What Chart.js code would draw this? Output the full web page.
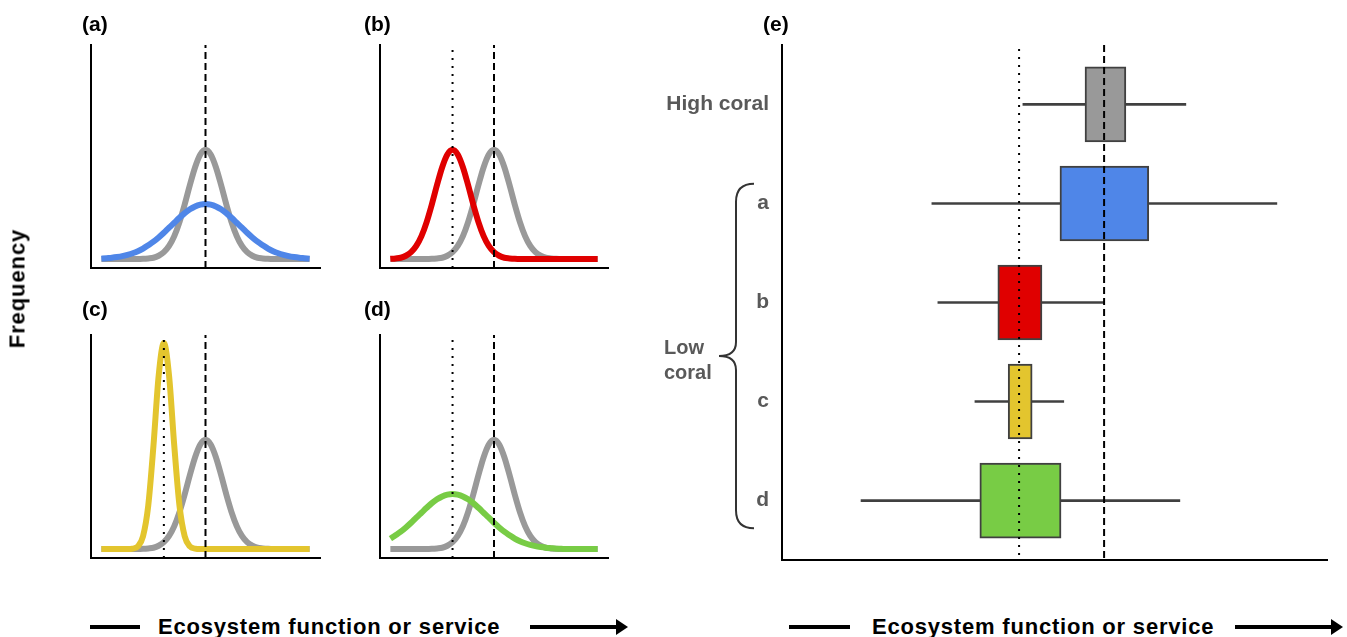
<!DOCTYPE html>
<html lang="en">
<head>
<meta charset="UTF-8">
<title>Ecosystem function distributions</title>
<script src="https://cdn.jsdelivr.net/npm/chart.js@4.4.1/dist/chart.umd.min.js"></script>
<style>
  body { margin: 0; background: #fff; font-family: "Liberation Sans", Arial, sans-serif; }
  #page { position: relative; width: 1347px; height: 637px; overflow: hidden; }
  canvas { position: absolute; }
  .lbl { position: absolute; font-weight: bold; font-size: 21px; line-height: 21px; color: #000; white-space: nowrap; }
  .xlab { position: absolute; font-weight: bold; font-size: 22px; line-height: 24px; letter-spacing: 0.8px; white-space: nowrap; }
  .bar { position: absolute; background: #000; height: 4px; }
  .head { position: absolute; width: 0; height: 0; border-top: 8px solid transparent; border-bottom: 8px solid transparent; border-left: 12px solid #000; }
</style>
</head>
<body>
<div id="page">
  <canvas id="pa" width="340" height="290" style="left:0;top:0"></canvas>
  <canvas id="pb" width="340" height="290" style="left:340px;top:0"></canvas>
  <canvas id="pc" width="340" height="290" style="left:0;top:290px"></canvas>
  <canvas id="pd" width="340" height="290" style="left:340px;top:290px"></canvas>
  <canvas id="pe" width="707" height="580" style="left:640px;top:0"></canvas>

  <div class="lbl" style="left:82px;top:13px">(a)</div>
  <div class="lbl" style="left:364px;top:13px">(b)</div>
  <div class="lbl" style="left:82px;top:298px">(c)</div>
  <div class="lbl" style="left:364px;top:298px">(d)</div>
  <div class="lbl" style="left:763px;top:13px">(e)</div>

  <div class="lbl" style="left:-43px;top:278px;font-size:22px;letter-spacing:0.9px;transform:rotate(-90deg);width:120px;text-align:center">Frequency</div>

  <div class="lbl" style="left:664px;top:335px;font-size:20px;line-height:25px;color:#595959">Low<br>coral</div>

  <div class="bar" style="left:90px;top:625px;width:50px"></div>
  <div class="xlab" style="left:158px;top:615px">Ecosystem function or service</div>
  <div class="bar" style="left:530px;top:625px;width:88px"></div>
  <div class="head" style="left:616px;top:619px"></div>

  <div class="bar" style="left:789px;top:625px;width:61px"></div>
  <div class="xlab" style="left:872px;top:615px">Ecosystem function or service</div>
  <div class="bar" style="left:1235px;top:625px;width:98px"></div>
  <div class="head" style="left:1331px;top:619px"></div>
</div>

<script>
// x positions along the "ecosystem function" axis of the small panels (a)-(d)
const X = [1, 1.5, 2, 2.5, 3, 3.5, 4, 4.5, 5, 5.5, 6, 6.5, 7, 7.5, 8, 8.5, 9, 9.5, 10, 10.5,
           11, 11.5, 12, 12.5, 13, 13.5, 14, 14.5, 15, 15.5, 16, 16.5, 17, 17.5, 18, 18.5, 19, 19.5, 20, 20.5, 21];

// frequency curves
const highCoral = [4, 4, 4, 4, 4, 4, 4, 4, 4.1, 4.3, 4.6, 5.5, 7.1, 9.9, 14.3, 20.6, 28.5, 37.2, 45.2, 50.9,
                   53, 50.9, 45.2, 37.2, 28.5, 20.6, 14.3, 9.9, 7.1, 5.5, 4.6, 4.3, 4.1, 4, 4, 4, 4, 4, 4, 4, 4];
const lowA = [4.2, 4.4, 4.6, 4.9, 5.3, 5.9, 6.6, 7.5, 8.7, 10.2, 11.8, 13.7, 15.8, 18.1, 20.3, 22.5, 24.6, 26.3, 27.6, 28.4,
              28.7, 28.4, 27.6, 26.3, 24.6, 22.5, 20.3, 18.1, 15.8, 13.7, 11.8, 10.2, 8.7, 7.5, 6.6, 5.9, 5.3, 4.9, 4.6, 4.4, 4.2];
const lowB = [4.1, 4.3, 4.6, 5.5, 7.1, 9.9, 14.3, 20.6, 28.5, 37.2, 45.2, 50.9, 53, 50.9, 45.2, 37.2, 28.5, 20.6, 14.3, 9.9,
              7.1, 5.5, 4.6, 4.3, 4.1, 4, 4, 4, 4, 4, 4, 4, 4, 4, 4, 4, 4, 4, 4, 4, 4];
const lowC = [4, 4, 4, 4, 4, 4, 4.2, 5.2, 9.8, 23.5, 50.3, 81.7, 96.4, 81.7, 50.3, 23.5, 9.8, 5.2, 4.2, 4,
              4, 4, 4, 4, 4, 4, 4, 4, 4, 4, 4, 4, 4, 4, 4, 4, 4, 4, 4, 4, 4];
const lowD = [8.7, 10.2, 11.8, 13.7, 15.8, 18.1, 20.3, 22.5, 24.6, 26.3, 27.6, 28.4, 28.7, 28.4, 27.6, 26.3, 24.6, 22.5, 20.3, 18.1,
              15.8, 13.7, 11.8, 10.2, 8.7, 7.5, 6.6, 5.9, 5.3, 4.9, 4.6, 4.4, 4.2, 4.1, 4, 4, 4, 4, 4, 4, 4];

const highMean = 11;   // dashed line
const lowMean = 7;     // dotted line

// panel (e): box = inner range, whisker = full range
const rows = ['High coral', 'a', 'b', 'c', 'd'];
const boxLow = [55.6, 51.0, 39.6, 41.5, 36.3];
const boxHigh = [63.1, 67.3, 47.7, 45.9, 51.2];
const whiskLow = [44.2, 27.5, 28.6, 35.4, 14.5];
const whiskHigh = [74.1, 90.8, 59.1, 51.7, 73.0];
const eHighMean = 59.1;
const eLowMean = 43.5;

const GRAY = '#999999', BLUE = '#4f86e8', RED = '#e00000', YELLOW = '#e3c52e', GREEN = '#78cc45';
const boxColors = [GRAY, BLUE, RED, YELLOW, GREEN];
const FONT = '"Liberation Sans", Arial, sans-serif';

function pts(ys) {
    return X.map(function (x, i) { return { x: x, y: ys[i] }; });
}

function curve(ys, color) {
    return { data: pts(ys), borderColor: color, borderWidth: 6, pointRadius: 0,
             cubicInterpolationMode: 'monotone', fill: false };
}

function vline(x, dash, top) {
    return { data: [{ x: x, y: 0 }, { x: x, y: top }], borderColor: '#000', borderWidth: 2,
             borderDash: dash, pointRadius: 0, fill: false };
}

var axisOpts = function (min, max) {
    return { type: 'linear', min: min, max: max,
             grid: { display: false, drawTicks: false },
             ticks: { display: false },
             border: { display: true, color: '#000', width: 2 } };
};

function smallPanel(id, datasets, padLeft, padRight) {
    new Chart(document.getElementById(id), {
        type: 'line',
        data: { datasets: datasets },
        options: {
            responsive: false, animation: false, events: [],
            layout: { padding: { left: padLeft, right: padRight, top: 45, bottom: 22 } },
            plugins: { legend: { display: false }, tooltip: { enabled: false } },
            scales: { x: axisOpts(0, 22), y: axisOpts(0, 100) }
        }
    });
}

// first dataset is drawn on top
smallPanel('pa', [vline(highMean, [7, 4], 100), curve(lowA, BLUE), curve(highCoral, GRAY)], 91, 20);
smallPanel('pb', [vline(highMean, [7, 4], 100), vline(lowMean, [2, 6], 99), curve(lowB, RED), curve(highCoral, GRAY)], 40, 72);
smallPanel('pc', [vline(highMean, [7, 4], 100), vline(lowMean, [2, 6], 99), curve(lowC, YELLOW), curve(highCoral, GRAY)], 91, 20);
smallPanel('pd', [vline(highMean, [7, 4], 100), vline(lowMean, [2, 6], 99), curve(lowD, GREEN), curve(highCoral, GRAY)], 40, 72);

// curly brace grouping the low coral rows
const bracePlugin = {
    id: 'brace',
    afterDraw: function (chart) {
        const ctx = chart.ctx, ys = chart.scales.y, left = chart.chartArea.left;
        const y0 = ys.getPixelForValue(0.8), y1 = ys.getPixelForValue(4.28), ym = (y0 + y1) / 2;
        const tip = left - 28, vx = left - 46, px = left - 63;
        ctx.save();
        ctx.strokeStyle = '#333';
        ctx.lineWidth = 2;
        ctx.beginPath();
        ctx.moveTo(tip, y0);
        ctx.quadraticCurveTo(vx, y0, vx, y0 + 18);
        ctx.lineTo(vx, ym - 14);
        ctx.quadraticCurveTo(vx, ym, px, ym);
        ctx.quadraticCurveTo(vx, ym, vx, ym + 14);
        ctx.lineTo(vx, y1 - 18);
        ctx.quadraticCurveTo(vx, y1, tip, y1);
        ctx.stroke();
        ctx.restore();
    }
};

new Chart(document.getElementById('pe'), {
    type: 'bar',
    data: {
        datasets: [
            { type: 'line', data: [{ x: eHighMean, y: -0.6 }, { x: eHighMean, y: 4.6 }],
              borderColor: '#000', borderWidth: 2, borderDash: [7, 4], pointRadius: 0 },
            { type: 'line', data: [{ x: eLowMean, y: -0.56 }, { x: eLowMean, y: 4.6 }],
              borderColor: '#000', borderWidth: 2, borderDash: [2, 6], pointRadius: 0 },
            { data: rows.map(function (r, i) { return { x: [boxLow[i], boxHigh[i]], y: i }; }),
              backgroundColor: boxColors, borderColor: '#404040', borderWidth: 2, borderSkipped: false,
              grouped: false, barThickness: 75, maxBarThickness: 75, categoryPercentage: 1, barPercentage: 1 },
            { data: rows.map(function (r, i) { return { x: [whiskLow[i], whiskHigh[i]], y: i }; }),
              backgroundColor: '#404040', borderWidth: 0,
              grouped: false, barThickness: 2, maxBarThickness: 2, categoryPercentage: 1, barPercentage: 1 }
        ]
    },
    options: {
        indexAxis: 'y',
        responsive: false, animation: false, events: [],
        layout: { padding: { left: 12, right: 20, top: 45, bottom: 20 } },
        plugins: { legend: { display: false }, tooltip: { enabled: false } },
        scales: {
            x: axisOpts(0, 100),
            y: {
                type: 'linear', min: -0.6, max: 4.6, reverse: true, offset: false,
                afterBuildTicks: function (s) { s.ticks = rows.map(function (r, i) { return { value: i }; }); },
                afterFit: function (s) { s.width = 130; s.paddingTop = 0; s.paddingBottom = 0; },
                grid: { display: false, drawTicks: false, offset: false },
                ticks: { callback: function (v) { return rows[v]; }, color: '#595959', padding: 13,
                         font: { family: FONT, size: 21, weight: 'bold' } },
                border: { display: true, color: '#000', width: 2 }
            }
        }
    },
    plugins: [bracePlugin]
});
</script>
</body>
</html>
